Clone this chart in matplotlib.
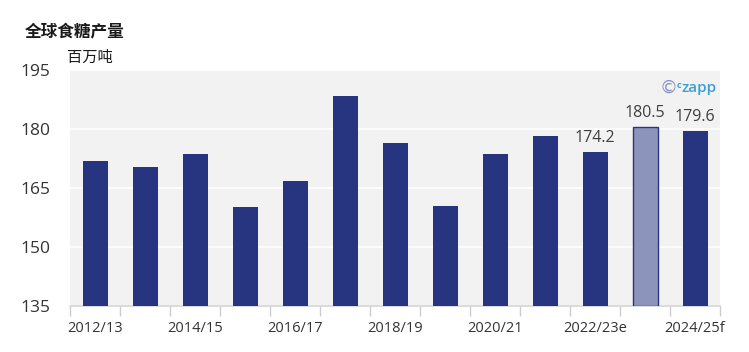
import matplotlib
matplotlib.use("Agg")
import matplotlib.pyplot as plt
from matplotlib.ticker import FixedLocator

plt.rcParams['font.family'] = ['Noto Sans CJK SC', 'DejaVu Sans']

categories = ["2012/13", "2013/14", "2014/15", "2015/16", "2016/17", "2017/18",
              "2018/19", "2019/20", "2020/21", "2021/22", "2022/23e", "2023/24", "2024/25f"]
values = [171.9, 170.4, 173.7, 160.2, 166.9, 188.5, 176.5, 160.5, 173.7, 178.3, 174.2, 180.5, 179.6]
labeled = {10: "174.2", 11: "180.5", 12: "179.6"}
highlight = 11
yticks = [135, 150, 165, 180, 195]

fig = plt.figure(figsize=(7.49, 3.52), dpi=100)
ax = fig.add_axes([70/749, 1-306/352, 650/749, 236/352])
ax.set_facecolor("#f2f2f2")

dark = "#27347f"
light = "#8c94bc"
x = list(range(len(categories)))
colors = [light if i == highlight else dark for i in x]
ax.bar(x, [v - 135 for v in values], bottom=135, width=0.5, color=colors,
       edgecolor=[dark if i == highlight else "none" for i in x], linewidth=1, zorder=3)

for i, t in labeled.items():
    ax.text(i, values[i] + 1.5, t, ha="center", va="bottom", fontsize=11.5, color="#404040",
            family=["Open Sans", "DejaVu Sans"])

ax.set_xlim(-0.5, len(categories) - 0.5)
ax.set_ylim(135, 195)
ax.set_yticks(yticks)
ax.set_yticklabels([str(v) for v in yticks], fontsize=12.5, color="#333333",
                   family=["Open Sans", "DejaVu Sans"])
ax.yaxis.grid(True, color="white", linewidth=1.2, zorder=1)
ax.tick_params(axis="y", length=0, pad=14)

ax.set_xticks(x[::2])
ax.set_xticklabels(categories[::2], fontsize=10.5, color="#333333",
                   family=["Open Sans", "DejaVu Sans"])
ax.tick_params(axis="x", which="major", length=0, pad=11)
ax.xaxis.set_minor_locator(FixedLocator([i - 0.5 for i in range(len(categories) + 1)]))
ax.tick_params(axis="x", which="minor", length=7, color="#cccccc", width=1)

for s in ["top", "right", "left"]:
    ax.spines[s].set_visible(False)
ax.spines["bottom"].set_color("#d5d5d5")
ax.spines["bottom"].set_linewidth(1.2)

fig.text(25/749, 1-31/352, "全球食糖产量", fontsize=12, fontweight="bold", color="#1a1a1a",
         va="center", ha="left")
fig.text(67/749, 1-57/352, "百万吨", fontsize=11, color="#1a1a1a", va="center", ha="left")

fig.text(668/749, 1-88/352, "©", ha="center", va="center",
         fontsize=13, color="#8a8fc4", family=["DejaVu Sans"])
fig.text(679/749, 1-85/352, "c", ha="center", va="center",
         fontsize=6.5, color="#3d9fd9", fontweight="bold", family=["Open Sans", "DejaVu Sans"])
fig.text(682/749, 1-88/352, "zapp", ha="left", va="center",
         fontsize=11, color="#3d9fd9", fontweight="semibold", family=["Open Sans", "DejaVu Sans"])

fig.savefig("out.png", dpi=100)
